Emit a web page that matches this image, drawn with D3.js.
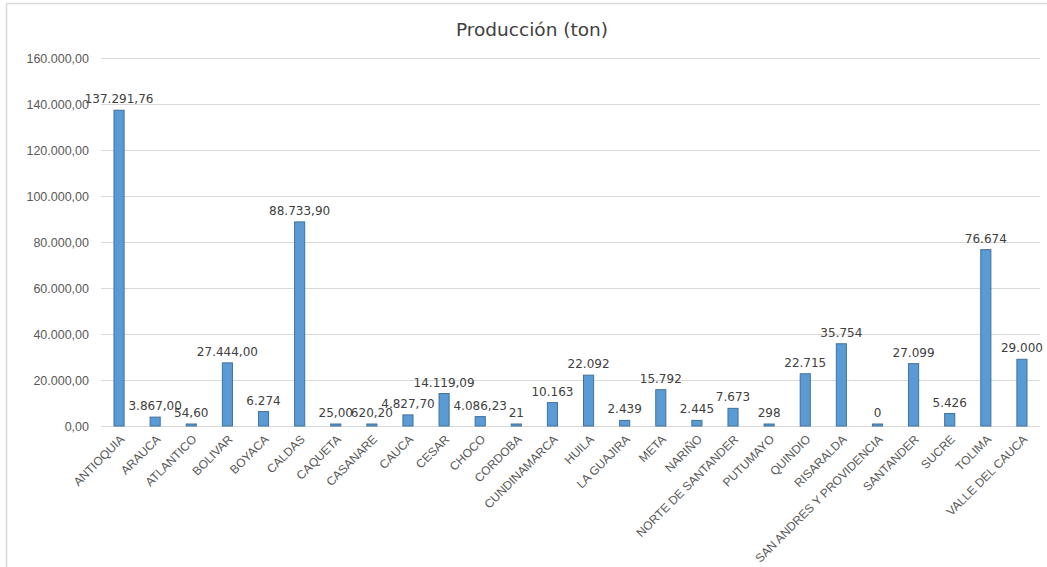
<!DOCTYPE html>
<html>
<head>
<meta charset="utf-8">
<script src="https://cdn.jsdelivr.net/npm/d3@7/dist/d3.min.js"></script>
<style>
  body { margin: 0; background: #fff; }
  svg { display: block; font-family: "DejaVu Sans", "Open Sans", sans-serif; }
</style>
</head>
<body>
<svg id="chart" width="1047" height="567"></svg>
<script>
// departamentos
const departamentos = ["ANTIOQUIA", "ARAUCA", "ATLANTICO", "BOLIVAR", "BOYACA", "CALDAS", "CAQUETA",
  "CASANARE", "CAUCA", "CESAR", "CHOCO", "CORDOBA", "CUNDINAMARCA", "HUILA", "LA GUAJIRA", "META",
  "NARIÑO", "NORTE DE SANTANDER", "PUTUMAYO", "QUINDIO", "RISARALDA", "SAN ANDRES Y PROVIDENCIA",
  "SANTANDER", "SUCRE", "TOLIMA", "VALLE DEL CAUCA"];

const produccion = [137291.76, 3867, 54.6, 27444, 6274, 88733.9, 25, 620.2, 4827.7, 14119.09, 4086.23,
  21, 10163, 22092, 2439, 15792, 2445, 7673, 298, 22715, 35754, 0, 27099, 5426, 76674, 29000];

// etiquetas tal cual aparecen en el grafico
const etiquetas = ["137.291,76", "3.867,00", "54,60", "27.444,00", "6.274", "88.733,90", "25,00",
  "620,20", "4.827,70", "14.119,09", "4.086,23", "21", "10.163", "22.092", "2.439", "15.792", "2.445",
  "7.673", "298", "22.715", "35.754", "0", "27.099", "5.426", "76.674", "29.000"];

const yTicks = [0, 20000, 40000, 60000, 80000, 100000, 120000, 140000, 160000];
const yTickLabels = ["0,00", "20.000,00", "40.000,00", "60.000,00", "80.000,00", "100.000,00",
  "120.000,00", "140.000,00", "160.000,00"];

const svg = d3.select("#chart");
const margin = { left: 101, right: 7, top: 58, bottom: 141 };
const W = 1047, H = 567;

// borde del area del grafico
svg.append("line").attr("x1", 6.5).attr("x2", W).attr("y1", 3.5).attr("y2", 3.5)
  .attr("stroke", "#d9d9d9").attr("stroke-width", 1.5);
svg.append("line").attr("x1", 6.5).attr("x2", 6.5).attr("y1", 3.5).attr("y2", H)
  .attr("stroke", "#d9d9d9").attr("stroke-width", 1.5);

const x = d3.scaleBand()
  .domain(departamentos)
  .range([margin.left, W - margin.right])
  .paddingInner(0.72)
  .paddingOuter(0.36);

const y = d3.scaleLinear()
  .domain([0, 160000])
  .range([H - margin.bottom, margin.top]);

// titulo
svg.append("text")
  .attr("x", 532).attr("y", 36)
  .attr("text-anchor", "middle")
  .attr("font-size", 18.5)
  .attr("fill", "#404040")
  .text("Producción (ton)");

// grid + eje y
const yAxis = d3.axisLeft(y)
  .tickValues(yTicks)
  .tickSize(-(W - margin.left - margin.right))
  .tickPadding(12)
  .tickFormat((d, i) => yTickLabels[i]);

const gy = svg.append("g")
  .attr("transform", `translate(${margin.left},0)`)
  .call(yAxis);
gy.select(".domain").remove();
gy.selectAll(".tick line").attr("stroke", "#d9d9d9").attr("stroke-width", 1.2);
gy.selectAll(".tick text").attr("fill", "#595959").attr("font-size", 12.5);

// barras
svg.selectAll(".bar")
  .data(produccion)
  .join("rect")
  .attr("class", "bar")
  .attr("x", (d, i) => x(departamentos[i]))
  .attr("width", x.bandwidth())
  .attr("y", d => Math.min(y(d), y(0) - 2))
  .attr("height", d => Math.max(y(0) - y(d), 2))
  .attr("fill", "#5b9bd5")
  .attr("stroke", "#41719c")
  .attr("stroke-width", 1);

// etiquetas de datos
svg.selectAll(".lbl")
  .data(produccion)
  .join("text")
  .attr("class", "lbl")
  .attr("x", (d, i) => x(departamentos[i]) + x.bandwidth() / 2)
  .attr("y", d => Math.min(y(d), y(0) - 2) - 7)
  .attr("text-anchor", "middle")
  .attr("font-size", 12)
  .attr("fill", "#404040")
  .text((d, i) => etiquetas[i]);

// eje x
const xAxis = d3.axisBottom(x).tickSize(0).tickPadding(0);
const gx = svg.append("g")
  .attr("transform", `translate(0,${y(0)})`)
  .call(xAxis);
gx.select(".domain").remove();
gx.selectAll(".tick text")
  .attr("font-size", 12)
  .attr("fill", "#595959")
  .attr("text-anchor", "end")
  .attr("dy", 0)
  .attr("transform", "translate(6,14) rotate(-45)");
</script>
</body>
</html>
